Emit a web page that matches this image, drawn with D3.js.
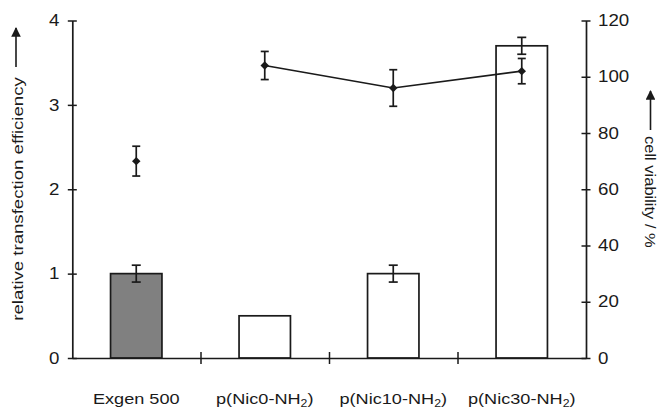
<!DOCTYPE html>
<html>
<head>
<meta charset="utf-8">
<script src="https://cdn.jsdelivr.net/npm/d3@7"></script>
<style>
  body { margin: 0; background: #fff; }
  svg text { font-family: "Liberation Sans", Arial, sans-serif; fill: #1a1a1a; }
</style>
</head>
<body>
<svg id="chart" width="658" height="409"></svg>
<script>
var categories = ['Exgen 500', 'p(Nic0-NH2)', 'p(Nic10-NH2)', 'p(Nic30-NH2)'];
var efficiency = [1.0, 0.5, 1.0, 3.7];
var efficiencyErr = [0.1, 0, 0.1, 0.1];
var viability = [70, 104, 96, 102];
var viabilityErr = [5.3, 5, 6.5, 4.5];
var effTicks = [0, 1, 2, 3, 4];
var viaTicks = [0, 20, 40, 60, 80, 100, 120];

var ink = '#1a1a1a';
var sx = 1.17; // glyphs in the original are wider than they are tall

var svg = d3.select('#chart');

var x = d3.scaleBand()
  .domain(categories)
  .range([72, 586])
  .paddingInner(0.6)
  .paddingOuter(0.3);

var xEdge = d3.scaleLinear()
  .domain([0, categories.length])
  .range([72, 586]);

var yL = d3.scaleLinear()
  .domain([0, 4])
  .range([358, 20.5]);

var yR = d3.scaleLinear()
  .domain([0, 120])
  .range([358, 20.5]);

function cx(d) { return x(d) + x.bandwidth() / 2; }

// bars
svg.append('g')
  .selectAll('rect')
  .data(categories)
  .join('rect')
    .attr('x', function(d) { return x(d); })
    .attr('y', function(d, i) { return yL(efficiency[i]); })
    .attr('width', x.bandwidth())
    .attr('height', function(d, i) { return yL(0) - yL(efficiency[i]); })
    .attr('fill', function(d, i) { return i === 0 ? '#808080' : '#fff'; })
    .attr('stroke', ink)
    .attr('stroke-width', 1.7);

function errorBar(g, xc, yTop, yBot, cap) {
  g.append('line').attr('x1', xc).attr('x2', xc).attr('y1', yTop).attr('y2', yBot);
  g.append('line').attr('x1', xc - cap).attr('x2', xc + cap).attr('y1', yTop).attr('y2', yTop);
  g.append('line').attr('x1', xc - cap).attr('x2', xc + cap).attr('y1', yBot).attr('y2', yBot);
}

var errG = svg.append('g').attr('stroke', ink).attr('stroke-width', 1.7);
categories.forEach(function(c, i) {
  if (efficiencyErr[i] > 0) {
    errorBar(errG, cx(c), yL(efficiency[i] + efficiencyErr[i]), yL(efficiency[i] - efficiencyErr[i]), 4.5);
  }
  errorBar(errG, cx(c), yR(viability[i] + viabilityErr[i]), yR(viability[i] - viabilityErr[i]), 4);
});

// viability line (polymers only)
var line = d3.line()
  .x(function(d) { return cx(d); })
  .y(function(d) { return yR(viability[categories.indexOf(d)]); });

svg.append('path')
  .datum(categories.slice(1))
  .attr('d', line)
  .attr('fill', 'none')
  .attr('stroke', ink)
  .attr('stroke-width', 1.7);

svg.append('g')
  .selectAll('path')
  .data(categories)
  .join('path')
    .attr('d', d3.symbol().type(d3.symbolSquare).size(36))
    .attr('transform', function(d, i) { return 'translate(' + cx(d) + ',' + yR(viability[i]) + ') rotate(45)'; })
    .attr('fill', ink);

// axes
function styleAxis(g) {
  g.select('.domain').attr('stroke', ink).attr('stroke-width', 1.7);
  g.selectAll('.tick line').attr('stroke', ink).attr('stroke-width', 1.5);
  g.selectAll('text').attr('fill', ink).style('font-size', '16px');
}

var axisL = d3.axisLeft(yL).tickValues(effTicks).tickSizeOuter(0).tickSizeInner(4.5).tickFormat(d3.format('d'));
var gL = svg.append('g').attr('transform', 'translate(72.3,0)').call(axisL);
styleAxis(gL);
gL.selectAll('.tick line').attr('x1', 4.5);
gL.selectAll('.tick text').attr('x', null).attr('transform', 'translate(-13,0) scale(' + sx + ',1)');

var axisR = d3.axisRight(yR).tickValues(viaTicks).tickSizeOuter(0).tickSizeInner(4.5).tickFormat(d3.format('d'));
var gR = svg.append('g').attr('transform', 'translate(586,0)').call(axisR);
styleAxis(gR);
gR.selectAll('.tick line').attr('x1', -4.5);
gR.selectAll('.tick text').attr('x', null).attr('transform', 'translate(12,0) scale(' + sx + ',1)');

var axisB = d3.axisBottom(xEdge).tickValues([1, 2, 3]).tickSizeOuter(0).tickSizeInner(6).tickFormat('');
var gB = svg.append('g').attr('transform', 'translate(0,358)').call(axisB);
styleAxis(gB);
gB.selectAll('.tick line').attr('y1', -6);

// category labels with subscripts
var labG = svg.append('g');
categories.forEach(function(c) {
  var t = labG.append('text')
    .attr('transform', 'translate(' + cx(c) + ',404) scale(' + sx + ',1)')
    .attr('text-anchor', 'middle')
    .style('font-size', '15.5px');
  var m = c.match(/^(.*NH)2(\))$/);
  if (m) {
    t.append('tspan').text(m[1]);
    t.append('tspan').attr('dy', 3).style('font-size', '10.5px').text('2');
    t.append('tspan').attr('dy', -3).text(m[2]);
  } else {
    t.text(c);
  }
});

// axis titles with arrows
svg.append('defs').append('marker')
  .attr('id', 'arrow')
  .attr('viewBox', '0 0 10 10')
  .attr('refX', 9).attr('refY', 5)
  .attr('markerWidth', 6).attr('markerHeight', 6)
  .attr('orient', 'auto')
  .append('path')
    .attr('d', 'M0,0L10,5L0,10Z')
    .attr('fill', ink);

svg.append('text')
  .attr('transform', 'translate(23,199) rotate(-90) scale(1.2,1)')
  .attr('text-anchor', 'middle')
  .style('font-size', '15.5px')
  .text('relative transfection efficiency');

svg.append('line')
  .attr('x1', 16).attr('x2', 16).attr('y1', 67).attr('y2', 28)
  .attr('stroke', ink).attr('stroke-width', 1.6)
  .attr('marker-end', 'url(#arrow)');

svg.append('text')
  .attr('transform', 'translate(645,136) rotate(90) scale(1.1,1)')
  .attr('text-anchor', 'start')
  .style('font-size', '15px')
  .text('cell viability / %');

svg.append('line')
  .attr('x1', 650.5).attr('x2', 650.5).attr('y1', 130).attr('y2', 91)
  .attr('stroke', ink).attr('stroke-width', 1.6)
  .attr('marker-end', 'url(#arrow)');
</script>
</body>
</html>
